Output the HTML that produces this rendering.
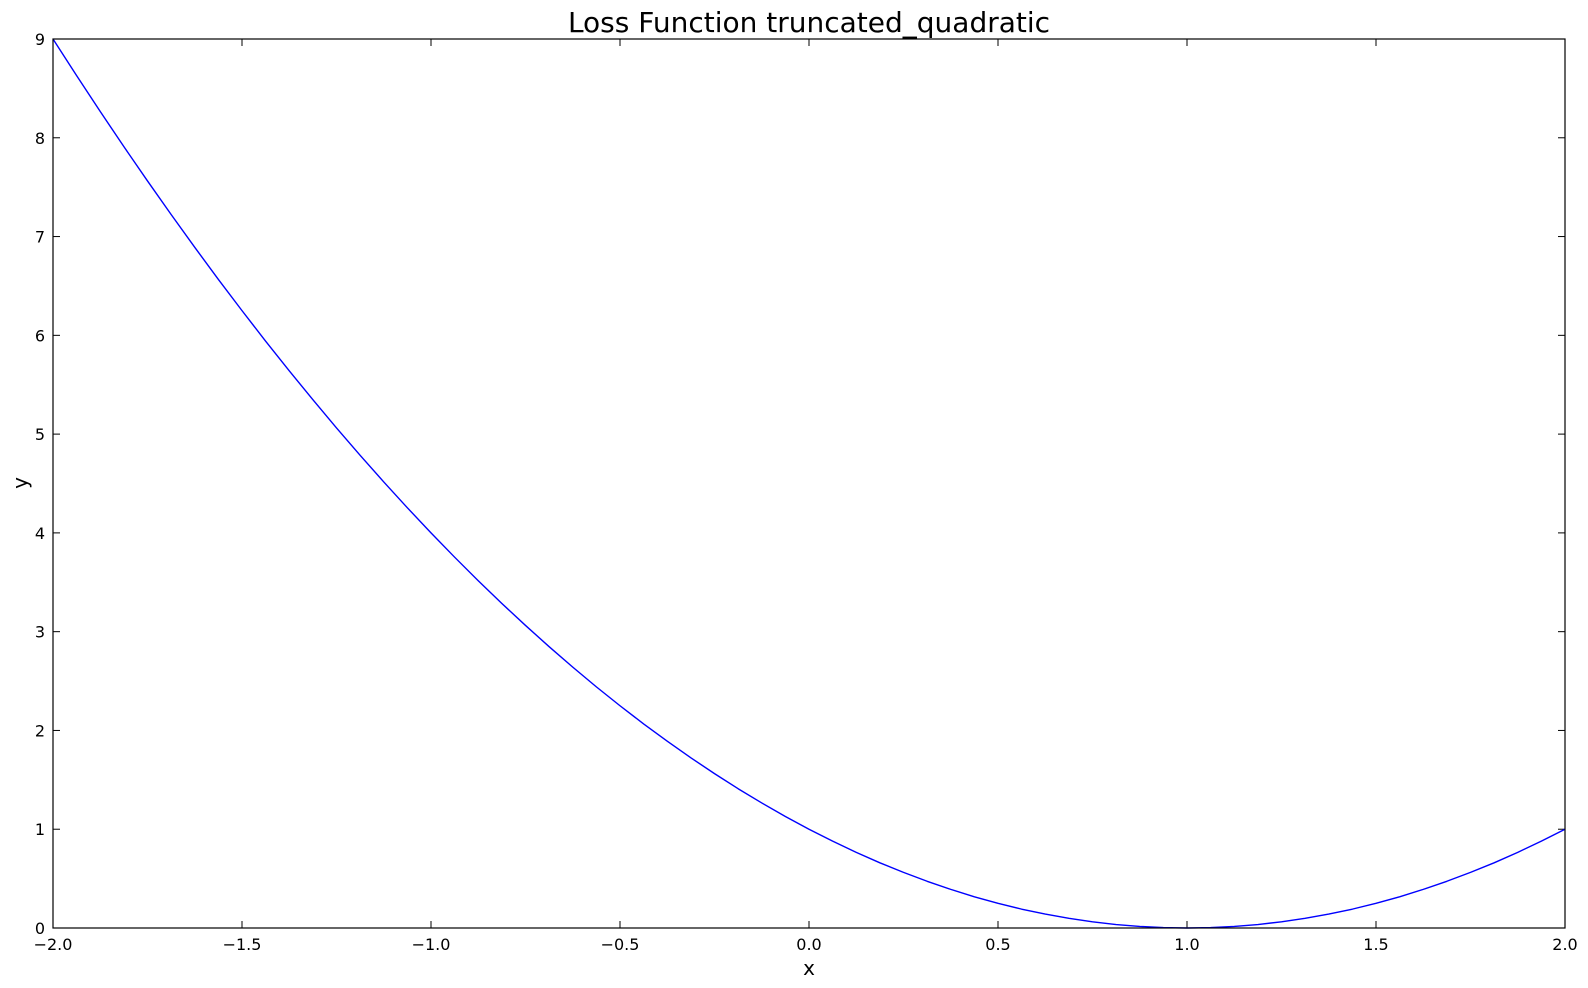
<!DOCTYPE html>
<html><head><meta charset="utf-8"><style>
body{margin:0;background:#fff;}
svg{display:block;font-family:"DejaVu Sans","Liberation Sans",sans-serif;}
</style></head><body>
<svg id="chart" width="1588" height="988">
<rect width="1588" height="988" fill="#fff"/>
<text x="809" y="32" text-anchor="middle" font-size="28">Loss Function truncated_quadratic</text>
<text x="809" y="975" text-anchor="middle" font-size="20">x</text>
<text transform="translate(27,483) rotate(-90)" text-anchor="middle" font-size="20">y</text>
<g id="ticks"></g>
<polyline id="curve" fill="none" stroke="#0000ff" stroke-width="1.4" stroke-linejoin="round"/>
<rect x="53" y="39" width="1512" height="889" fill="none" stroke="#000" stroke-width="1.2"/>
</svg>
<script>
const xValues=[-2,-1.9375,-1.875,-1.8125,-1.75,-1.6875,-1.625,-1.5625,-1.5,-1.4375,-1.375,-1.3125,-1.25,-1.1875,-1.125,-1.0625,-1,-0.9375,-0.875,-0.8125,-0.75,-0.6875,-0.625,-0.5625,-0.5,-0.4375,-0.375,-0.3125,-0.25,-0.1875,-0.125,-0.0625,0,0.0625,0.125,0.1875,0.25,0.3125,0.375,0.4375,0.5,0.5625,0.625,0.6875,0.75,0.8125,0.875,0.9375,1,1.0625,1.125,1.1875,1.25,1.3125,1.375,1.4375,1.5,1.5625,1.625,1.6875,1.75,1.8125,1.875,1.9375,2];
const yValues=[9,8.629,8.266,7.910,7.563,7.223,6.891,6.566,6.25,5.941,5.641,5.348,5.063,4.785,4.516,4.254,4,3.754,3.516,3.285,3.063,2.848,2.641,2.441,2.25,2.066,1.891,1.723,1.563,1.410,1.266,1.129,1,0.879,0.766,0.660,0.563,0.473,0.391,0.316,0.25,0.191,0.141,0.098,0.063,0.035,0.016,0.004,0,0.004,0.016,0.035,0.063,0.098,0.141,0.191,0.25,0.316,0.391,0.473,0.563,0.660,0.766,0.879,1];
const xTicks=[-2,-1.5,-1,-0.5,0,0.5,1,1.5,2];
const xTickLabels=["\u22122.0","\u22121.5","\u22121.0","\u22120.5","0.0","0.5","1.0","1.5","2.0"];
const yTicks=[0,1,2,3,4,5,6,7,8,9];
const yTickLabels=["0","1","2","3","4","5","6","7","8","9"];
const L=53,R=1565,T=39,B=928;
function sx(v){return L+(v+2)/4*(R-L);}
function sy(v){return B-v/9*(B-T);}
const NS="http://www.w3.org/2000/svg";
const g=document.getElementById('ticks');
function line(x1,y1,x2,y2,name){const l=document.createElementNS(NS,'line');l.setAttribute('x1',x1);l.setAttribute('y1',y1);l.setAttribute('x2',x2);l.setAttribute('y2',y2);l.setAttribute('stroke','#000');l.setAttribute('stroke-width','1');


g.appendChild(l);}
function text(x,y,s,anchor,name){const t=document.createElementNS(NS,'text');t.setAttribute('x',x);t.setAttribute('y',y);t.setAttribute('text-anchor',anchor);t.setAttribute('font-size','16');t.textContent=s;


g.appendChild(t);}
xTicks.forEach((v,i)=>{const x=sx(v);line(x,B,x,B-7,'x-tick');line(x,T,x,T+7,'x-tick-top');text(x,B+22,xTickLabels[i],'middle','x-tick-label');});
yTicks.forEach((v,i)=>{const y=sy(v);line(L,y,L+7,y,'y-tick');line(R,y,R-7,y,'y-tick-right');text(L-8,y+6,yTickLabels[i],'end','y-tick-label');});
document.getElementById('curve').setAttribute('points',xValues.map((x,i)=>sx(x).toFixed(2)+','+sy(yValues[i]).toFixed(2)).join(' '));
</script>
</body></html>
